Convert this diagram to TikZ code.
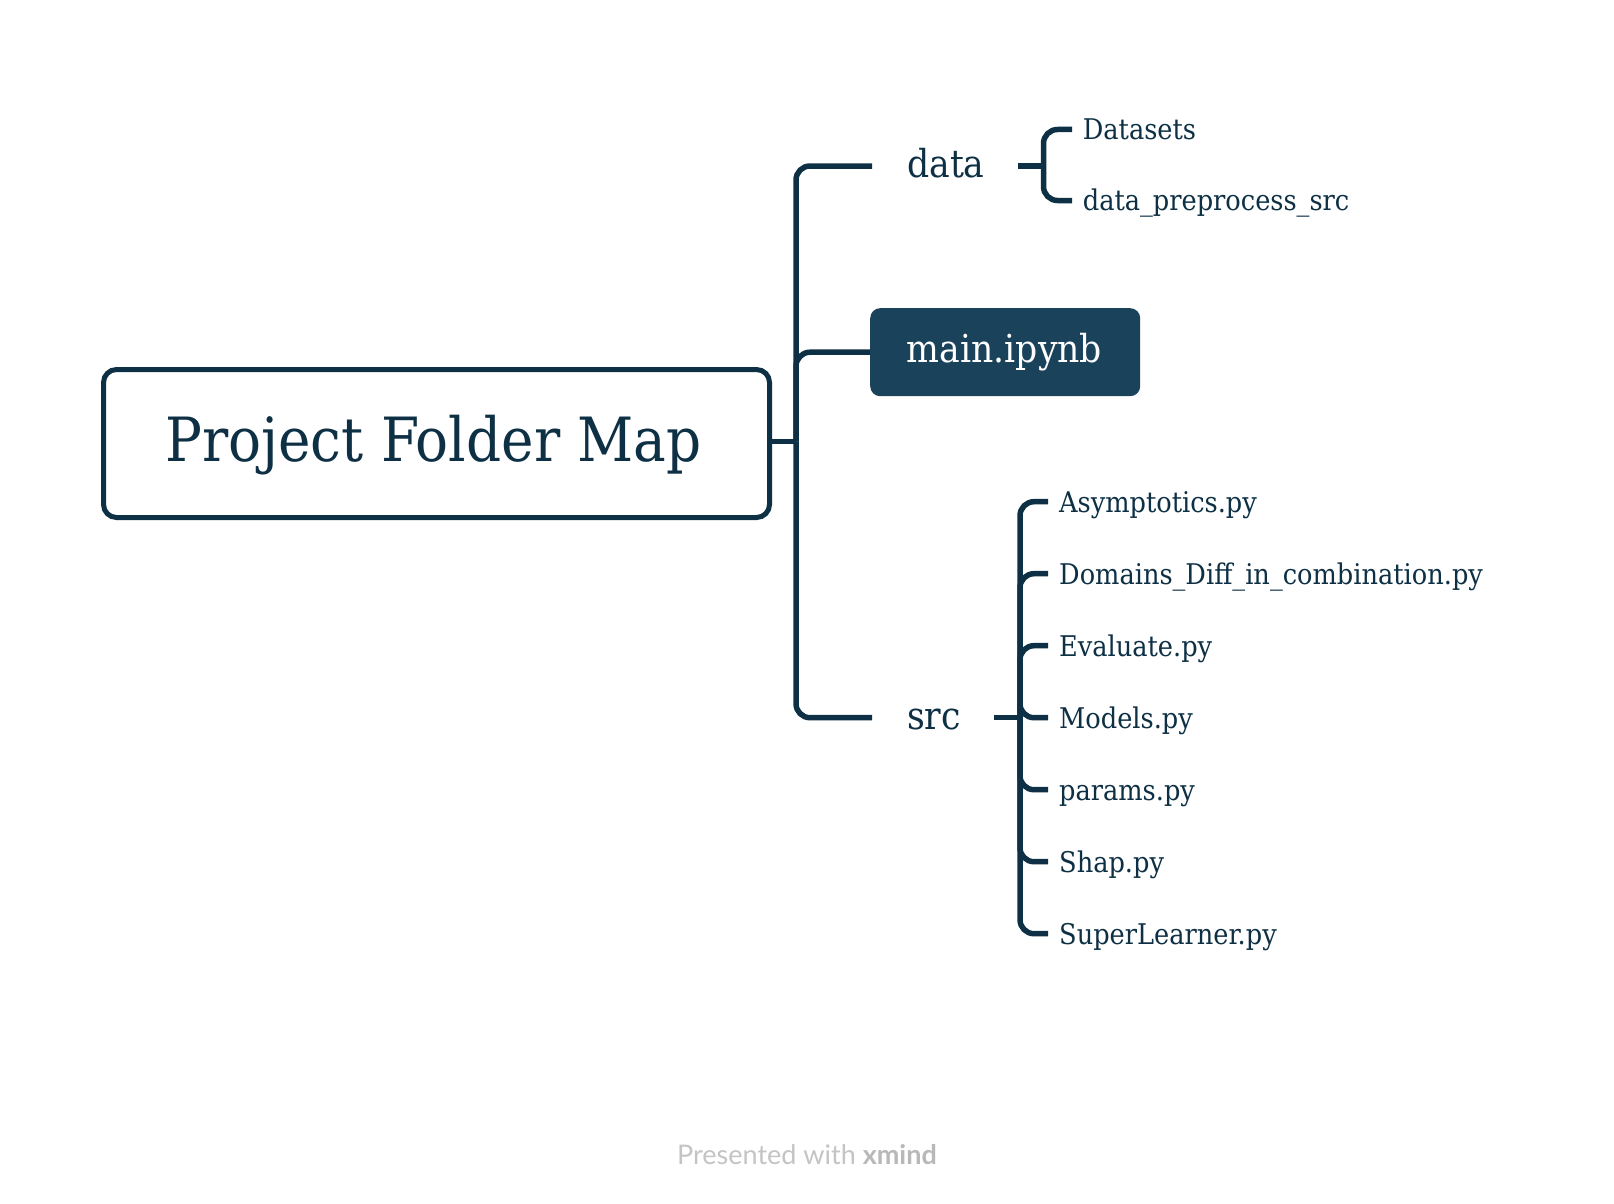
\documentclass[tikz,border=0pt]{standalone}
\usepackage{fontspec}
\setmainfont{DejaVu Serif Condensed}
\newfontfamily\footfont{Lato}
\definecolor{ink}{HTML}{0E3045}
\definecolor{boxfill}{HTML}{1A425B}
\definecolor{footgray}{HTML}{C4C4C4}
\definecolor{footdark}{HTML}{B8B8B8}
\tikzset{
  conn/.style={draw=ink, line width=5.5pt, rounded corners=14pt},
  roottext/.style={anchor=base west, inner sep=0pt, text=ink, font=\fontsize{61}{64}\selectfont},
  midtext/.style={anchor=base west, inner sep=0pt, text=ink, font=\fontsize{38.5}{42}\selectfont},
  leaftext/.style={anchor=base west, inner sep=0pt, text=ink, font=\fontsize{28.5}{32}\selectfont},
  mainbox/.style={fill=boxfill, rounded corners=10pt},
  rootbox/.style={draw=ink, line width=5pt, rounded corners=13pt},
}
\begin{document}
\begin{tikzpicture}[x=1pt,y=-1pt]
\useasboundingbox (0,0) rectangle (1614,1204);
\fill[white] (0,0) rectangle (1614,1204);

% root
\draw[rootbox] (103.5,369.5) rectangle (769.5,517.5);
\node[roottext] (root) at (165,461.7) {Project Folder Map};
\coordinate (rootR) at (772,441.5);
\coordinate (j0) at (796,441.5);

% main box
\node[mainbox, minimum width=270pt, minimum height=88pt, anchor=north west] (mainbg) at (870,308) {};
\node[midtext, text=white] (main) at (906.7,362.7) {main.ipynb};

% level 1 texts
\node[midtext] (data) at (907,177.3) {data};
\node[midtext] (src) at (907,729) {src};

\coordinate (dataL) at (872,166);
\coordinate (srcL) at (872,717.7);

\draw[conn] (rootR) -- (j0);
\draw[conn] (j0) |- (dataL);
\draw[conn] (j0) |- (mainbg.west);
\draw[conn] (j0) |- (srcL);

% data children
\node[leaftext] (ds) at (1082.7,139.5) {Datasets};
\node[leaftext] (dp) at (1082.7,210.5) {data\_preprocess\_src};
\coordinate (dR) at (1018,166);
\coordinate (j1) at (1043.5,166);
\coordinate (dsL) at (1072,129.5);
\coordinate (dpL) at (1072,200.5);
\draw[conn] (dR) -- (j1);
\draw[conn] (j1) |- (dsL);
\draw[conn] (j1) |- (dpL);

% src children
\coordinate (sR) at (994,717.7);
\coordinate (j2) at (1020,717.7);
\foreach \n/\t [count=\i from 0] in {a/Asymptotics.py, b/Domains\_Diff\_in\_combination.py, c/Evaluate.py, d/Models.py, e/params.py, f/Shap.py, g/SuperLearner.py}{
  \node[leaftext] (s\n) at (1059,{501.7+72*\i+10.5}) {\t};
  \coordinate (s\n L) at (1048,{501.7+72*\i});
}
\draw[conn] (sR) -- (j2);
\foreach \n in {a,b,c,d,e,f,g}{
  \draw[conn] (j2) |- (s\n L);
}

% footer
\node[anchor=base west, inner sep=0pt, text=footgray, font=\footfont\fontsize{27}{30}\selectfont] (foot) at (677,1164.3) {Presented with \textcolor{footdark}{\textbf{xmind}}};
\end{tikzpicture}
\end{document}
